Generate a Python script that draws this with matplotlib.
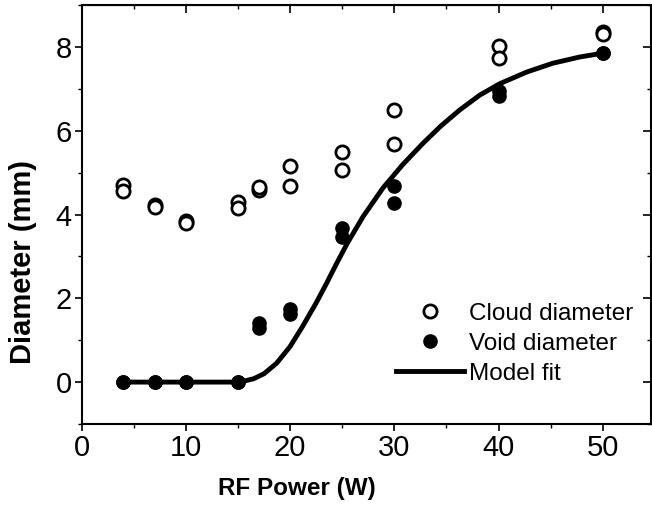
import matplotlib
matplotlib.use("Agg")
import matplotlib.pyplot as plt

# RF power (W) and measured diameters (mm)
cloud_x = [4, 4, 7, 7, 10, 10, 15, 15, 17, 17, 20, 20, 25, 25, 30, 30, 40, 40, 50, 50]
cloud_y = [4.7, 4.55, 4.22, 4.17, 3.85, 3.8, 4.31, 4.15, 4.58, 4.65,
           5.15, 4.67, 5.5, 5.07, 6.5, 5.69, 8.01, 7.73, 8.35, 8.3]

void_x = [4, 4, 7, 7, 10, 10, 15, 15, 17, 17, 20, 20, 25, 25, 30, 30, 40, 40, 50, 50]
void_y = [0, 0, 0, 0, 0, 0, 0, 0, 1.3, 1.4,
          1.75, 1.62, 3.67, 3.47, 4.67, 4.27, 6.94, 6.82, 7.85, 7.85]

# model fit curve
fit_x = [4, 15, 15.5, 16.5, 17.5, 18.7, 20, 21.2, 22.5, 23.5, 24.5, 25.5,
         27, 28.9, 30.8, 32.75, 34.5, 36.3, 38.2, 40.1, 42.7, 45.2, 47.8, 50]
fit_y = [0, 0, 0.02, 0.08, 0.2, 0.45, 0.85, 1.33, 1.89, 2.36, 2.85, 3.32,
         3.95, 4.63, 5.19, 5.7, 6.12, 6.5, 6.85, 7.12, 7.4, 7.61, 7.76, 7.85]

xticks = [0, 10, 20, 30, 40, 50]
yticks = [0, 2, 4, 6, 8]
xminor = [5, 15, 25, 35, 45]
yminor = [-1, 1, 3, 5, 7, 9]

plt.rcParams['font.family'] = ['Liberation Sans', 'DejaVu Sans']

fig = plt.figure(figsize=(6.52, 5.12), dpi=100)
ax = fig.add_axes([0.1253, 0.1719, 0.8727, 0.8183])

ax.plot(fit_x, fit_y, color='black', linewidth=3.5, label='Model fit', zorder=2)
ax.plot(cloud_x, cloud_y, linestyle='none', marker='o', markersize=9.5,
        markerfacecolor='white', markeredgecolor='black', markeredgewidth=2.0,
        label='Cloud diameter', zorder=3)
ax.plot(void_x, void_y, linestyle='none', marker='o', markersize=9.5,
        color='black', label='Void diameter', zorder=3)

ax.set_xlim(0, 54.6)
ax.set_ylim(-1, 9)
ax.set_xticks(xticks)
ax.set_yticks(yticks)
ax.set_xticks(xminor, minor=True)
ax.set_yticks(yminor, minor=True)

for s in ax.spines.values():
    s.set_linewidth(1.5)
ax.tick_params(which='major', direction='out', length=5, width=1.2,
               labelsize=21, pad=2)
ax.tick_params(which='minor', direction='out', length=3, width=1.0)

# mirrored ticks pointing inward on top and right
top = ax.secondary_xaxis('top')
top.set_xticks(xticks)
top.set_xticks(xminor, minor=True)
top.tick_params(which='major', direction='in', length=6, width=1.2, labeltop=False)
top.tick_params(which='minor', direction='in', length=3, width=1.0)
right = ax.secondary_yaxis('right')
right.set_yticks(yticks)
right.set_yticks(yminor, minor=True)
right.tick_params(which='major', direction='in', length=6, width=1.2, labelright=False)
right.tick_params(which='minor', direction='in', length=3, width=1.0)

ax.set_xlabel('RF Power (W)', fontsize=17.5, fontweight='bold')
ax.set_ylabel('Diameter (mm)', fontsize=21, fontweight='bold')
ax.xaxis.set_label_coords(0.379, -0.127)
ax.yaxis.set_label_coords(-0.078, 0.387)

handles, labels = ax.get_legend_handles_labels()
order = [1, 2, 0]
ax.legend([handles[i] for i in order], [labels[i] for i in order],
          loc='upper left', bbox_to_anchor=(0.553, 0.289), frameon=False,
          prop={'size': 17.5}, handlelength=2.8,
          handletextpad=0.2, labelspacing=0.32, borderpad=0, borderaxespad=0)

fig.savefig('out.png', dpi=100)
